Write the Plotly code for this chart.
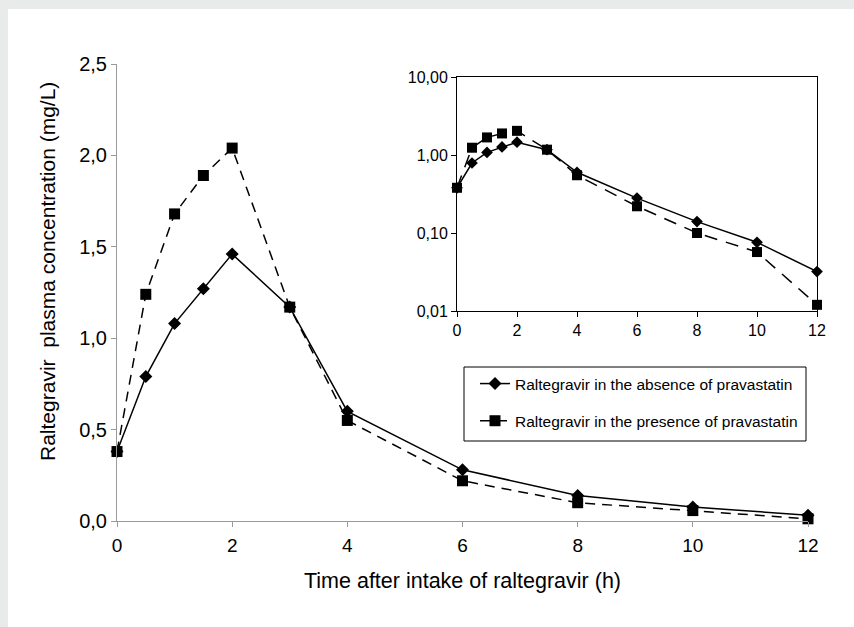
import plotly.graph_objects as go

# Sampling times (h)
time_h = [0, 0.5, 1, 1.5, 2, 3, 4, 6, 8, 10, 12]

# Raltegravir plasma concentration (mg/L)
absence = [0.38, 0.79, 1.08, 1.27, 1.46, 1.17, 0.60, 0.28, 0.14, 0.076, 0.032]
presence = [0.38, 1.24, 1.68, 1.89, 2.04, 1.17, 0.55, 0.22, 0.10, 0.057, 0.012]

label_absence = "Raltegravir in the absence of pravastatin"
label_presence = "Raltegravir in the presence of pravastatin"

x_ticks = [0, 2, 4, 6, 8, 10, 12]
y_ticks = [0, 0.5, 1.0, 1.5, 2.0, 2.5]
y_ticktext = ["0,0", "0,5", "1,0", "1,5", "2,0", "2,5"]
log_ticks = [0.01, 0.1, 1, 10]
log_ticktext = ["0,01", "0,10", "1,00", "10,00"]

W, H = 854, 627
GRAY = "#e9ebea"
AXIS_GRAY = "#9a9a9a"
SANS = "Liberation Sans, Arial, Helvetica, sans-serif"

fig = go.Figure()

# Main linear panel
fig.add_trace(go.Scatter(
    x=time_h, y=absence, name=label_absence, mode="lines+markers",
    legendgroup="a",
    line=dict(color="black", width=1.5),
    marker=dict(symbol="diamond", size=10, color="black"),
    cliponaxis=False, xaxis="x", yaxis="y"))
fig.add_trace(go.Scatter(
    x=time_h, y=presence, name=label_presence, mode="lines+markers",
    legendgroup="p",
    line=dict(color="black", width=1.5, dash="10px,7px"),
    marker=dict(symbol="square", size=11, color="black"),
    cliponaxis=False, xaxis="x", yaxis="y"))

# Inset log panel
fig.add_trace(go.Scatter(
    x=time_h, y=absence, mode="lines+markers", showlegend=False,
    line=dict(color="black", width=1.5),
    marker=dict(symbol="diamond", size=9, color="black"),
    cliponaxis=False, xaxis="x2", yaxis="y2"))
fig.add_trace(go.Scatter(
    x=time_h, y=presence, mode="lines+markers", showlegend=False,
    line=dict(color="black", width=1.5, dash="13px,9px"),
    marker=dict(symbol="square", size=10, color="black"),
    cliponaxis=False, xaxis="x2", yaxis="y2"))

fig.update_layout(
    template="none",
    width=W, height=H,
    margin=dict(l=0, r=0, t=0, b=0, autoexpand=False),
    paper_bgcolor="white", plot_bgcolor="rgba(0,0,0,0)",
    xaxis=dict(
        domain=[117 / W, 808 / W], range=[0, 12], tickvals=x_ticks,
        automargin=False,
        showline=True, linecolor=AXIS_GRAY, linewidth=1,
        ticks="outside", ticklen=5, tickcolor=AXIS_GRAY,
        ticklabelstandoff=2,
        showgrid=False, zeroline=False,
        tickfont=dict(family=SANS, size=19, color="black"),
        title=dict(text="Time after intake of raltegravir (h)",
                   font=dict(family=SANS, size=21.5, color="black"),
                   standoff=18),
        anchor="y"),
    yaxis=dict(
        domain=[(H - 521) / H, (H - 64) / H], range=[0, 2.5],
        automargin=False,
        tickvals=y_ticks, ticktext=y_ticktext,
        showline=True, linecolor=AXIS_GRAY, linewidth=1,
        ticks="outside", ticklen=5, tickcolor=AXIS_GRAY,
        showgrid=False, zeroline=False,
        tickfont=dict(family=SANS, size=20, color="black"),
        anchor="x"),
    xaxis2=dict(
        domain=[457 / W, 817 / W], range=[0, 12], tickvals=x_ticks,
        automargin=False,
        showline=True, mirror=True, linecolor="black", linewidth=1,
        ticks="outside", ticklen=5, tickcolor="black",
        showgrid=False, zeroline=False,
        tickfont=dict(family=SANS, size=16, color="black"),
        anchor="y2"),
    yaxis2=dict(
        domain=[(H - 311) / H, (H - 77) / H], type="log", range=[-2, 1],
        automargin=False,
        tickvals=log_ticks, ticktext=log_ticktext,
        showline=True, mirror=True, linecolor="black", linewidth=1,
        ticks="outside", ticklen=5, tickcolor="black",
        showgrid=False, zeroline=False,
        tickfont=dict(family=SANS, size=16, color="black"),
        anchor="x2"),
    legend=dict(
        x=475 / W, y=1 - 367 / H, xanchor="left", yanchor="top",
        bgcolor="rgba(0,0,0,0)", borderwidth=0,
        font=dict(family=SANS, size=15.5, color="black"),
        tracegroupgap=14, itemwidth=30),
    annotations=[
        dict(text="Raltegravir  plasma concentration (mg/L)",
             xref="paper", yref="paper", x=47 / W, y=1 - 272 / H,
             xanchor="center", yanchor="middle", textangle=-90,
             showarrow=False,
             font=dict(family=SANS, size=21, color="black")),
    ],
    shapes=[
        # page frame bands
        dict(type="rect", xref="paper", yref="paper", x0=0, x1=1,
             y0=1 - 9 / H, y1=1, fillcolor=GRAY, line=dict(width=0),
             layer="below"),
        dict(type="rect", xref="paper", yref="paper", x0=0, x1=8 / W,
             y0=0, y1=1, fillcolor=GRAY, line=dict(width=0),
             layer="below"),
        # legend frame
        dict(type="rect", xref="paper", yref="paper",
             x0=464 / W, x1=806 / W, y0=1 - 441 / H, y1=1 - 367 / H,
             fillcolor="white", line=dict(color="black", width=1),
             layer="below"),
    ],
)

fig.write_html("out.html")
